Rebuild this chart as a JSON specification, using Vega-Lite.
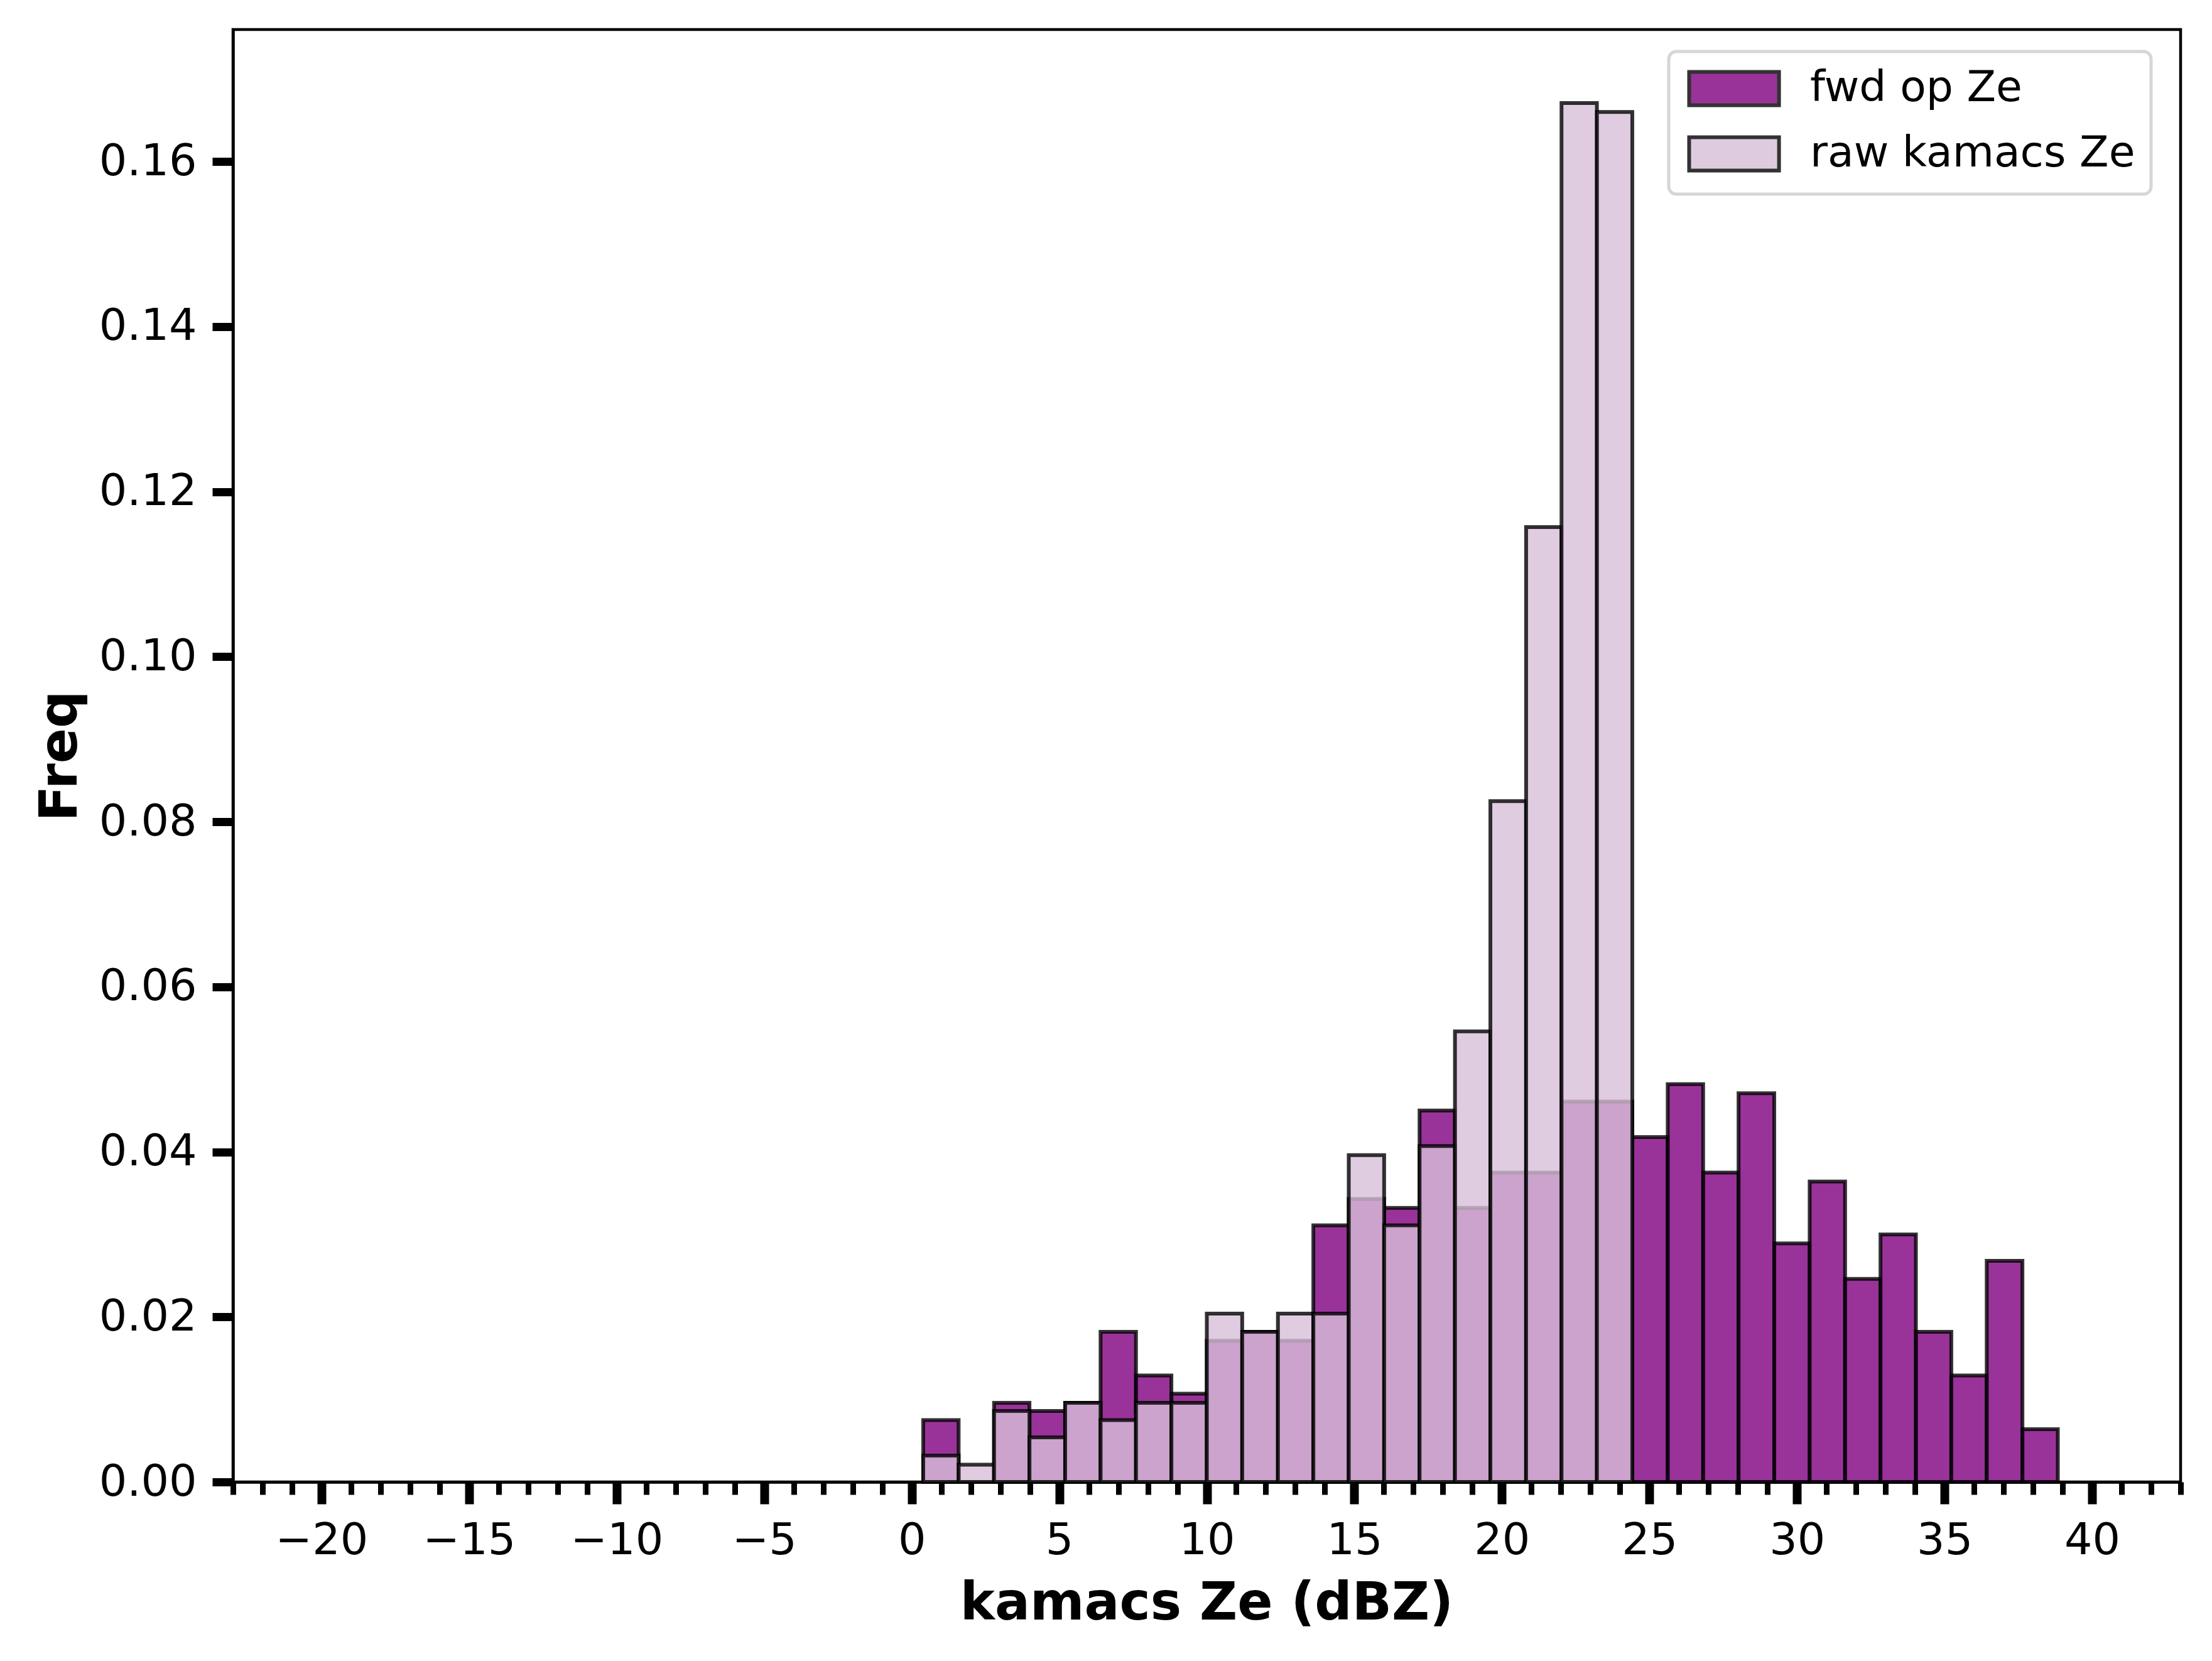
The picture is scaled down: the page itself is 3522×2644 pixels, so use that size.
{
  "$schema": "https://vega.github.io/schema/vega-lite/v6.json",
  "width": 3101,
  "height": 2312,
  "autosize": {"type": "none"},
  "padding": {"left": 371, "top": 47, "right": 50, "bottom": 285},
  "background": "#ffffff",
  "config": {
    "font": "DejaVu Sans",
    "view": {"stroke": "#000000", "strokeWidth": 4.5},
    "axis": {
      "grid": false,
      "domainColor": "#000000",
      "domainWidth": 4.5,
      "tickColor": "#000000",
      "labelColor": "#000000",
      "titleColor": "#000000",
      "labelFont": "DejaVu Sans",
      "labelFontSize": 70,
      "titleFont": "DejaVu Sans",
      "titleFontSize": 83,
      "titleFontWeight": "bold",
      "labelOverlap": false,
      "labelFlush": false,
      "labelBound": false
    }
  },
  "data": {
    "values": [
      {"lo": 0.39, "hi": 1.59, "series": "fwd op Ze", "freq": 0.0075},
      {"lo": 2.79, "hi": 3.99, "series": "fwd op Ze", "freq": 0.0096},
      {"lo": 3.99, "hi": 5.20, "series": "fwd op Ze", "freq": 0.0086},
      {"lo": 5.20, "hi": 6.40, "series": "fwd op Ze", "freq": 0.0096},
      {"lo": 6.40, "hi": 7.60, "series": "fwd op Ze", "freq": 0.0182},
      {"lo": 7.60, "hi": 8.80, "series": "fwd op Ze", "freq": 0.0129},
      {"lo": 8.80, "hi": 10.00, "series": "fwd op Ze", "freq": 0.0107},
      {"lo": 10.00, "hi": 11.20, "series": "fwd op Ze", "freq": 0.0171},
      {"lo": 11.20, "hi": 12.41, "series": "fwd op Ze", "freq": 0.0182},
      {"lo": 12.41, "hi": 13.61, "series": "fwd op Ze", "freq": 0.0171},
      {"lo": 13.61, "hi": 14.81, "series": "fwd op Ze", "freq": 0.0311},
      {"lo": 14.81, "hi": 16.01, "series": "fwd op Ze", "freq": 0.0343},
      {"lo": 16.01, "hi": 17.21, "series": "fwd op Ze", "freq": 0.0332},
      {"lo": 17.21, "hi": 18.41, "series": "fwd op Ze", "freq": 0.0450},
      {"lo": 18.41, "hi": 19.61, "series": "fwd op Ze", "freq": 0.0332},
      {"lo": 19.61, "hi": 20.82, "series": "fwd op Ze", "freq": 0.0375},
      {"lo": 20.82, "hi": 22.02, "series": "fwd op Ze", "freq": 0.0375},
      {"lo": 22.02, "hi": 23.22, "series": "fwd op Ze", "freq": 0.0461},
      {"lo": 23.22, "hi": 24.42, "series": "fwd op Ze", "freq": 0.0461},
      {"lo": 24.42, "hi": 25.62, "series": "fwd op Ze", "freq": 0.0418},
      {"lo": 25.62, "hi": 26.82, "series": "fwd op Ze", "freq": 0.0482},
      {"lo": 26.82, "hi": 28.02, "series": "fwd op Ze", "freq": 0.0375},
      {"lo": 28.02, "hi": 29.23, "series": "fwd op Ze", "freq": 0.0471},
      {"lo": 29.23, "hi": 30.43, "series": "fwd op Ze", "freq": 0.0289},
      {"lo": 30.43, "hi": 31.63, "series": "fwd op Ze", "freq": 0.0364},
      {"lo": 31.63, "hi": 32.83, "series": "fwd op Ze", "freq": 0.0246},
      {"lo": 32.83, "hi": 34.03, "series": "fwd op Ze", "freq": 0.0300},
      {"lo": 34.03, "hi": 35.23, "series": "fwd op Ze", "freq": 0.0182},
      {"lo": 35.23, "hi": 36.43, "series": "fwd op Ze", "freq": 0.0129},
      {"lo": 36.43, "hi": 37.64, "series": "fwd op Ze", "freq": 0.0268},
      {"lo": 37.64, "hi": 38.84, "series": "fwd op Ze", "freq": 0.0064},
      {"lo": 0.39, "hi": 1.59, "series": "raw kamacs Ze", "freq": 0.0032},
      {"lo": 1.59, "hi": 2.79, "series": "raw kamacs Ze", "freq": 0.0021},
      {"lo": 2.79, "hi": 3.99, "series": "raw kamacs Ze", "freq": 0.0086},
      {"lo": 3.99, "hi": 5.20, "series": "raw kamacs Ze", "freq": 0.0054},
      {"lo": 5.20, "hi": 6.40, "series": "raw kamacs Ze", "freq": 0.0096},
      {"lo": 6.40, "hi": 7.60, "series": "raw kamacs Ze", "freq": 0.0075},
      {"lo": 7.60, "hi": 8.80, "series": "raw kamacs Ze", "freq": 0.0096},
      {"lo": 8.80, "hi": 10.00, "series": "raw kamacs Ze", "freq": 0.0096},
      {"lo": 10.00, "hi": 11.20, "series": "raw kamacs Ze", "freq": 0.0204},
      {"lo": 11.20, "hi": 12.41, "series": "raw kamacs Ze", "freq": 0.0182},
      {"lo": 12.41, "hi": 13.61, "series": "raw kamacs Ze", "freq": 0.0204},
      {"lo": 13.61, "hi": 14.81, "series": "raw kamacs Ze", "freq": 0.0204},
      {"lo": 14.81, "hi": 16.01, "series": "raw kamacs Ze", "freq": 0.0396},
      {"lo": 16.01, "hi": 17.21, "series": "raw kamacs Ze", "freq": 0.0311},
      {"lo": 17.21, "hi": 18.41, "series": "raw kamacs Ze", "freq": 0.0407},
      {"lo": 18.41, "hi": 19.61, "series": "raw kamacs Ze", "freq": 0.0546},
      {"lo": 19.61, "hi": 20.82, "series": "raw kamacs Ze", "freq": 0.0825},
      {"lo": 20.82, "hi": 22.02, "series": "raw kamacs Ze", "freq": 0.1157},
      {"lo": 22.02, "hi": 23.22, "series": "raw kamacs Ze", "freq": 0.1671},
      {"lo": 23.22, "hi": 24.42, "series": "raw kamacs Ze", "freq": 0.1660}
    ]
  },
  "encoding": {
    "x": {
      "field": "lo",
      "type": "quantitative",
      "title": "kamacs Ze (dBZ)",
      "scale": {"domain": [-23, 43], "nice": false, "zero": false},
      "axis": {
        "values": [-23, -22, -21, -20, -19, -18, -17, -16, -15, -14, -13, -12, -11, -10, -9, -8, -7, -6, -5, -4, -3, -2, -1, 0, 1, 2, 3, 4, 5, 6, 7, 8, 9, 10, 11, 12, 13, 14, 15, 16, 17, 18, 19, 20, 21, 22, 23, 24, 25, 26, 27, 28, 29, 30, 31, 32, 33, 34, 35, 36, 37, 38, 39, 40, 41, 42, 43],
        "format": "d",
        "labelExpr": "round(datum.value / 5) * 5 === datum.value ? datum.label : ''",
        "tickSize": {"condition": {"test": "round(datum.value / 5) * 5 === datum.value", "value": 35}, "value": 20},
        "tickWidth": {"condition": {"test": "round(datum.value / 5) * 5 === datum.value", "value": 14}, "value": 9},
        "labelPadding": 24,
        "titleX": 1550,
        "titleY": 218,
        "titleBaseline": "alphabetic"
      }
    },
    "x2": {"field": "hi"},
    "y": {
      "field": "freq",
      "type": "quantitative",
      "title": "Freq",
      "scale": {"domain": [0, 0.176], "nice": false},
      "axis": {
        "values": [0, 0.02, 0.04, 0.06, 0.08, 0.1, 0.12, 0.14, 0.16],
        "format": ".2f",
        "tickSize": 33,
        "tickWidth": 13,
        "labelPadding": 25,
        "titleX": -250,
        "titleY": 1156,
        "titleBaseline": "alphabetic"
      }
    },
    "y2": {"datum": 0},
    "color": {
      "field": "series",
      "type": "nominal",
      "scale": {"domain": ["fwd op Ze", "raw kamacs Ze"], "range": ["#800080", "#d8bfd8"]},
      "legend": {
        "title": null,
        "orient": "none",
        "legendX": 2286,
        "legendY": 35,
        "direction": "vertical",
        "symbolType": "M-1,-1H4.4V1H-1Z",
        "symbolSize": 2809,
        "symbolStrokeColor": "#000000",
        "symbolStrokeWidth": 6,
        "symbolOpacity": 0.8,
        "labelFont": "DejaVu Sans",
        "labelFontSize": 68,
        "labelColor": "#000000",
        "labelLimit": 0,
        "labelOffset": 132,
        "rowPadding": 26,
        "padding": 25,
        "strokeColor": "#d6d6d6",
        "fillColor": "#ffffff",
        "cornerRadius": 12,
        "encode": {"legend": {"update": {"strokeWidth": {"value": 5}}}}
      }
    }
  },
  "layer": [
    {
      "transform": [{"filter": "datum.series === 'fwd op Ze'"}],
      "mark": {"type": "bar", "fillOpacity": 0.8, "stroke": "#000000", "strokeOpacity": 0.8, "strokeWidth": 6}
    },
    {
      "transform": [{"filter": "datum.series === 'raw kamacs Ze'"}],
      "mark": {"type": "bar", "fillOpacity": 0.8, "stroke": "#000000", "strokeOpacity": 0.8, "strokeWidth": 6}
    }
  ]
}
